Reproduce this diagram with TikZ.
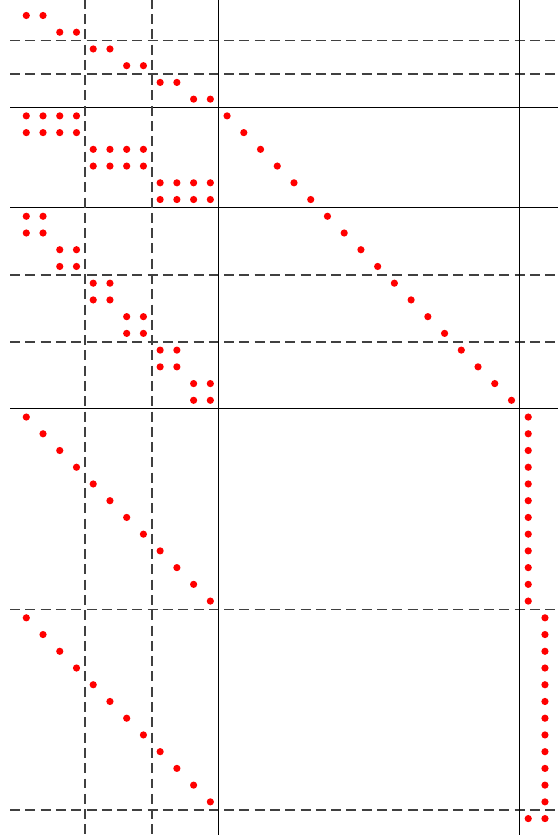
\documentclass[tikz,border=0pt]{standalone}
\begin{document}
\begin{tikzpicture}[x=0.5cm,y=0.5cm,
  solidline/.style={line width=0.85pt,black},
  dashline/.style={line width=1.3pt,black!75,dash pattern=on 8.5pt off 4.5pt},
  nz/.style={fill=red,draw=none}]
\useasboundingbox (-1.572,0.926) rectangle (31.72,-49.28);
% horizontal partition lines
\foreach \i in {5.5,11.5,23.5}
  \draw[solidline] (-0.97,-\i) -- (31.8,-\i);
\foreach \i in {1.5,3.5,15.5,19.5,35.5,47.5}
  \draw[dashline] (-0.97,-\i) -- (31.8,-\i);
% vertical partition lines
\foreach \j in {11.5,29.5}
  \draw[solidline] (\j,1) -- (\j,-49);
\foreach \j in {3.5,7.5}
  \draw[dashline] (\j,1) -- (\j,-49);
% nonzeros
\newcommand{\nzdot}[2]{\fill[nz] (#2,-#1) circle (0.215);}
% block A
\foreach \r in {0,...,5}{
  \pgfmathtruncatemacro{\ca}{2*\r}
  \pgfmathtruncatemacro{\cb}{2*\r+1}
  \nzdot{\r}{\ca}\nzdot{\r}{\cb}}
% block B
\foreach \r in {0,...,5}{
  \pgfmathtruncatemacro{\row}{6+\r}
  \pgfmathtruncatemacro{\cs}{4*floor(\r/2)}
  \pgfmathtruncatemacro{\ce}{\cs+3}
  \pgfmathtruncatemacro{\cd}{12+\r}
  \foreach \c in {\cs,...,\ce}{\nzdot{\row}{\c}}
  \nzdot{\row}{\cd}}
% block C
\foreach \r in {0,...,11}{
  \pgfmathtruncatemacro{\row}{12+\r}
  \pgfmathtruncatemacro{\ca}{2*floor(\r/2)}
  \pgfmathtruncatemacro{\cb}{\ca+1}
  \pgfmathtruncatemacro{\cd}{18+\r}
  \nzdot{\row}{\ca}\nzdot{\row}{\cb}\nzdot{\row}{\cd}}
% blocks D and E
\foreach \k in {0,...,11}{
  \pgfmathtruncatemacro{\rd}{24+\k}
  \pgfmathtruncatemacro{\re}{36+\k}
  \nzdot{\rd}{\k}\nzdot{\rd}{30}
  \nzdot{\re}{\k}\nzdot{\re}{31}}
% last row
\nzdot{48}{30}\nzdot{48}{31}
\end{tikzpicture}
\end{document}
